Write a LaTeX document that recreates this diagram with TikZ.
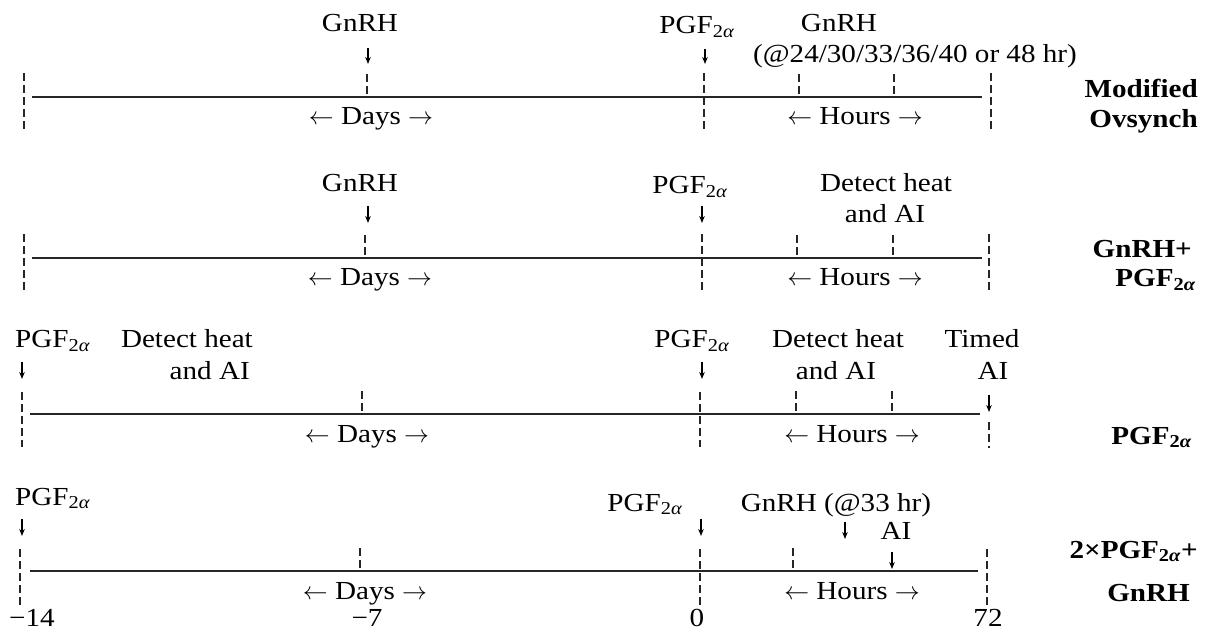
\documentclass[tikz,border=0pt]{standalone}
\usepackage{fontspec}
\setmainfont[FakeStretch=1.12]{Liberation Serif}
\usetikzlibrary{arrows.meta}
\newcommand{\pga}{PGF\textsubscript{2\textit{α}}}
\newcommand{\dayslbl}{$\leftarrow$ Days $\rightarrow$}
\newcommand{\hourslbl}{$\leftarrow$ Hours $\rightarrow$}
\tikzset{
  lbl/.style={font=\fontsize{26}{30}\selectfont, inner sep=0pt, anchor=base},
  rlbl/.style={font=\fontsize{26}{30}\selectfont\bfseries, inner sep=0pt, anchor=base east},
  tline/.style={line width=1.6pt, black!85},
  tk/.style={line width=1.1pt, dash pattern=on 8pt off 4pt, black!85},
  dn/.style={line width=1.2pt, -{Stealth[length=7pt,width=5.5pt]}},
}
\begin{document}
\begin{tikzpicture}[x=1pt,y=-1pt]
\useasboundingbox (0,0) rectangle (1205,636);
% ---------------- Row 1: Modified Ovsynch
\begin{scope}[shift={(0,97)}]
  \coordinate (r1s) at (32,0); \coordinate (r1e) at (982,0);
  \draw[tline] (r1s) -- (r1e);
  \foreach \x [count=\i] in {24,704,991} {
    \coordinate (r1f\i t) at (\x,-24); \coordinate (r1f\i b) at (\x,32);
    \draw[tk] (r1f\i t) -- (r1f\i b);}
  \foreach \x [count=\i] in {367,799,894} {
    \coordinate (r1u\i t) at (\x,-23); \coordinate (r1u\i b) at (\x,0);
    \draw[tk] (r1u\i t) -- (r1u\i b);}
  \node[lbl] (r1g) at (360,-65) {GnRH};
  \coordinate (r1ga) at (368,-49); \coordinate (r1gb) at (368,-33);
  \draw[dn] (r1ga) -- (r1gb);
  \node[lbl] (r1p) at (697,-63) {\pga};
  \coordinate (r1pa) at (705,-48); \coordinate (r1pb) at (705,-33);
  \draw[dn] (r1pa) -- (r1pb);
  \node[lbl] (r1g2) at (839,-65) {GnRH};
  \node[lbl] (r1g2b) at (915,-34) {(@24/30/33/36/40 or 48 hr)};
  \node[lbl] (r1d) at (371,28) {\dayslbl};
  \node[lbl] (r1h) at (855,28) {\hourslbl};
  \node[rlbl] (r1n1) at (1198,1) {Modified};
  \node[rlbl] (r1n2) at (1198,31) {Ovsynch};
\end{scope}
% ---------------- Row 2: GnRH + PGF
\begin{scope}[shift={(0,258)}]
  \coordinate (r2s) at (32,0); \coordinate (r2e) at (982,0);
  \draw[tline] (r2s) -- (r2e);
  \foreach \x [count=\i] in {24,702,989} {
    \coordinate (r2f\i t) at (\x,-24); \coordinate (r2f\i b) at (\x,32);
    \draw[tk] (r2f\i t) -- (r2f\i b);}
  \foreach \x [count=\i] in {365,797,893} {
    \coordinate (r2u\i t) at (\x,-23); \coordinate (r2u\i b) at (\x,0);
    \draw[tk] (r2u\i t) -- (r2u\i b);}
  \node[lbl] (r2g) at (360,-66) {GnRH};
  \coordinate (r2ga) at (368,-52); \coordinate (r2gb) at (368,-35);
  \draw[dn] (r2ga) -- (r2gb);
  \node[lbl] (r2p) at (690,-64) {\pga};
  \coordinate (r2pa) at (702,-52); \coordinate (r2pb) at (702,-35);
  \draw[dn] (r2pa) -- (r2pb);
  \node[lbl] (r2h1) at (886,-66) {Detect heat};
  \node[lbl] (r2h2) at (885,-35) {and AI};
  \node[lbl] (r2d) at (370,28) {\dayslbl};
  \node[lbl] (r2h) at (855,28) {\hourslbl};
  \node[rlbl] (r2n1) at (1192,0) {GnRH+};
  \node[rlbl] (r2n2) at (1196,29) {\pga};
\end{scope}
% ---------------- Row 3: PGF
\begin{scope}[shift={(0,414)}]
  \coordinate (r3s) at (30,0); \coordinate (r3e) at (980,0);
  \draw[tline] (r3s) -- (r3e);
  \foreach \x [count=\i] in {22,700} {
    \coordinate (r3f\i t) at (\x,-22); \coordinate (r3f\i b) at (\x,33);
    \draw[tk] (r3f\i t) -- (r3f\i b);}
  \foreach \x [count=\i] in {362,796,892} {
    \coordinate (r3u\i t) at (\x,-23); \coordinate (r3u\i b) at (\x,0);
    \draw[tk] (r3u\i t) -- (r3u\i b);}
  \coordinate (r3rt) at (989,8); \coordinate (r3rb) at (989,34);
  \draw[tk] (r3rt) -- (r3rb);
  \node[lbl, anchor=base west] (r3p0) at (15,-66) {\pga};
  \coordinate (r3p0a) at (22,-52); \coordinate (r3p0b) at (22,-35);
  \draw[dn] (r3p0a) -- (r3p0b);
  \node[lbl, anchor=base east] (r3h01) at (253,-66) {Detect heat};
  \node[lbl, anchor=base east] (r3h02) at (250,-35) {and AI};
  \node[lbl] (r3p) at (692,-66) {\pga};
  \coordinate (r3pa) at (702,-52); \coordinate (r3pb) at (702,-35);
  \draw[dn] (r3pa) -- (r3pb);
  \node[lbl] (r3h1) at (838,-66) {Detect heat};
  \node[lbl] (r3h2) at (836,-35) {and AI};
  \node[lbl] (r3t1) at (982,-66) {Timed};
  \node[lbl] (r3t2) at (993,-35) {AI};
  \coordinate (r3ta) at (989,-19); \coordinate (r3tb) at (989,-2);
  \draw[dn] (r3ta) -- (r3tb);
  \node[lbl] (r3d) at (367,28) {\dayslbl};
  \node[lbl] (r3h) at (852,28) {\hourslbl};
  \node[rlbl] (r3n) at (1192,30) {\pga};
\end{scope}
% ---------------- Row 4: 2xPGF + GnRH
\begin{scope}[shift={(0,571)}]
  \coordinate (r4s) at (30,0); \coordinate (r4e) at (978,0);
  \draw[tline] (r4s) -- (r4e);
  \foreach \x [count=\i] in {20,700,987} {
    \coordinate (r4f\i t) at (\x,-22); \coordinate (r4f\i b) at (\x,34);
    \draw[tk] (r4f\i t) -- (r4f\i b);}
  \foreach \x [count=\i] in {360,793} {
    \coordinate (r4u\i t) at (\x,-23); \coordinate (r4u\i b) at (\x,0);
    \draw[tk] (r4u\i t) -- (r4u\i b);}
  \node[lbl, anchor=base west] (r4p0) at (15,-66) {\pga};
  \coordinate (r4p0a) at (22,-52); \coordinate (r4p0b) at (22,-35);
  \draw[dn] (r4p0a) -- (r4p0b);
  \node[lbl] (r4p) at (645,-60) {\pga};
  \coordinate (r4pa) at (701,-52); \coordinate (r4pb) at (701,-35);
  \draw[dn] (r4pa) -- (r4pb);
  \node[lbl] (r4g) at (836,-60) {GnRH (@33 hr)};
  \coordinate (r4ga) at (845,-49); \coordinate (r4gb) at (845,-32);
  \draw[dn] (r4ga) -- (r4gb);
  \node[lbl] (r4ai) at (896,-32) {AI};
  \coordinate (r4aa) at (892,-19); \coordinate (r4ab) at (892,-2);
  \draw[dn] (r4aa) -- (r4ab);
  \node[lbl] (r4d) at (365,28) {\dayslbl};
  \node[lbl] (r4h) at (852,28) {\hourslbl};
  \node[lbl] (r4x1) at (32,55) {−14};
  \node[lbl] (r4x2) at (367,55) {−7};
  \node[lbl] (r4x3) at (697,55) {0};
  \node[lbl] (r4x4) at (988,55) {72};
  \node[rlbl] (r4n1) at (1198,-13) {2×\pga+};
  \node[rlbl] (r4n2) at (1190,30) {GnRH};
\end{scope}
\end{tikzpicture}
\end{document}
